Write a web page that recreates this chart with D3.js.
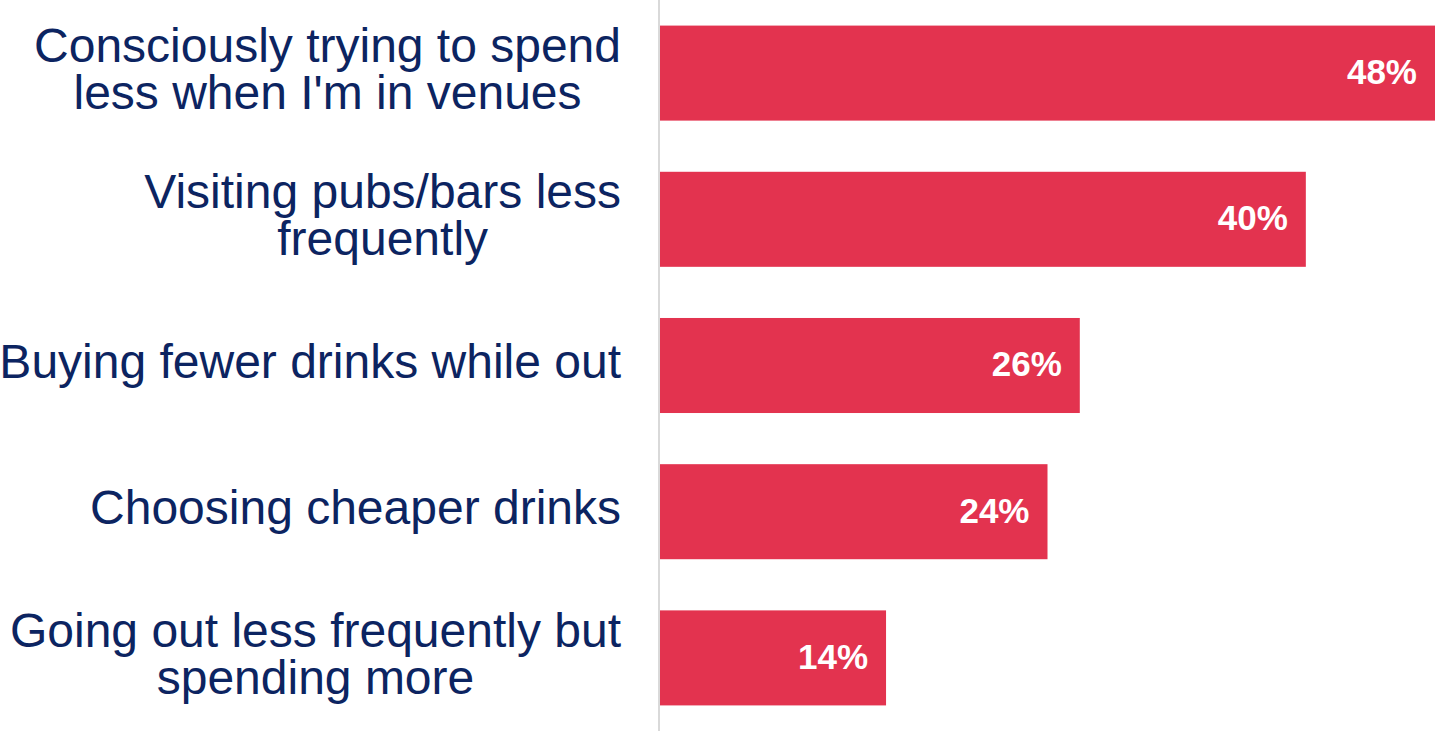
<!DOCTYPE html>
<html>
<head>
<meta charset="utf-8">
<script src="https://cdn.jsdelivr.net/npm/d3@7"></script>
<style>
  html, body { margin: 0; padding: 0; background: #fff; }
  svg { display: block; }
</style>
</head>
<body>
<div class="chart"></div>
<script>
var categories = [
  "Consciously trying to spend less when I'm in venues",
  "Visiting pubs/bars less frequently",
  "Buying fewer drinks while out",
  "Choosing cheaper drinks",
  "Going out less frequently but spending more"
];
// label line breaks as in the picture
var labelLines = [
  ["Consciously trying to spend", "less when I'm in venues"],
  ["Visiting pubs/bars less", "frequently"],
  ["Buying fewer drinks while out"],
  ["Choosing cheaper drinks"],
  ["Going out less frequently but", "spending more"]
];
var values = [48, 40, 26, 24, 14];

var width = 1435, height = 731;
var axisX = 660;
var labelRight = 621;

var svg = d3.select('div.chart').append('svg')
    .attr('width', width)
    .attr('height', height);

var xScale = d3.scaleLinear()
    .domain([0, 48])
    .range([axisX, width]);

var yScale = d3.scaleBand()
    .domain(categories)
    .range([0, height])
    .paddingInner(0.35)
    .paddingOuter(0.175);

// bars
svg.selectAll('rect.bar')
  .data(values)
  .enter().append('rect')
  .attr('class', 'bar')
  .attr('x', xScale(0))
  .attr('y', function (d, i) { return yScale(categories[i]); })
  .attr('width', function (d) { return xScale(d) - xScale(0); })
  .attr('height', yScale.bandwidth())
  .attr('fill', '#e3334f');

// vertical axis line
svg.append('line')
  .attr('x1', axisX - 1).attr('x2', axisX - 1)
  .attr('y1', 0).attr('y2', height)
  .attr('stroke', '#d9d9d9')
  .attr('stroke-width', 2);

// value labels
svg.selectAll('text.value')
  .data(values)
  .enter().append('text')
  .attr('class', 'value')
  .attr('x', function (d) { return xScale(d) - 18; })
  .attr('y', function (d, i) { return yScale(categories[i]) + yScale.bandwidth() / 2; })
  .attr('dy', '0.31em')
  .attr('text-anchor', 'end')
  .attr('fill', '#fff')
  .style('font-family', '"Liberation Sans", Arial, sans-serif')
  .style('font-weight', 'bold')
  .style('font-size', '35px')
  .text(function (d) { return d + '%'; });

// category labels: multi-line, centered within a right-aligned block
var lineHeight = 47;
var labelG = svg.selectAll('g.label')
  .data(labelLines)
  .enter().append('g')
  .attr('class', 'label');

labelG.each(function (lines, i) {
  var g = d3.select(this);
  var cy = yScale(categories[i]) + yScale.bandwidth() / 2;
  var t = g.append('text')
    .attr('fill', '#0c2461')
    .style('font-family', '"Liberation Sans", Arial, sans-serif')
    .style('font-size', '48px');
  lines.forEach(function (s, k) {
    t.append('tspan')
      .attr('y', cy + (k - (lines.length - 1) / 2) * lineHeight)
      .attr('dy', '0.26em')
      .text(s);
  });
  // measure widest line and center every line on the block
  var widths = [];
  t.selectAll('tspan').each(function () { widths.push(this.getComputedTextLength()); });
  var maxW = d3.max(widths);
  var center = labelRight - maxW / 2;
  t.selectAll('tspan')
    .attr('x', center)
    .attr('text-anchor', 'middle');
});
</script>
</body>
</html>
